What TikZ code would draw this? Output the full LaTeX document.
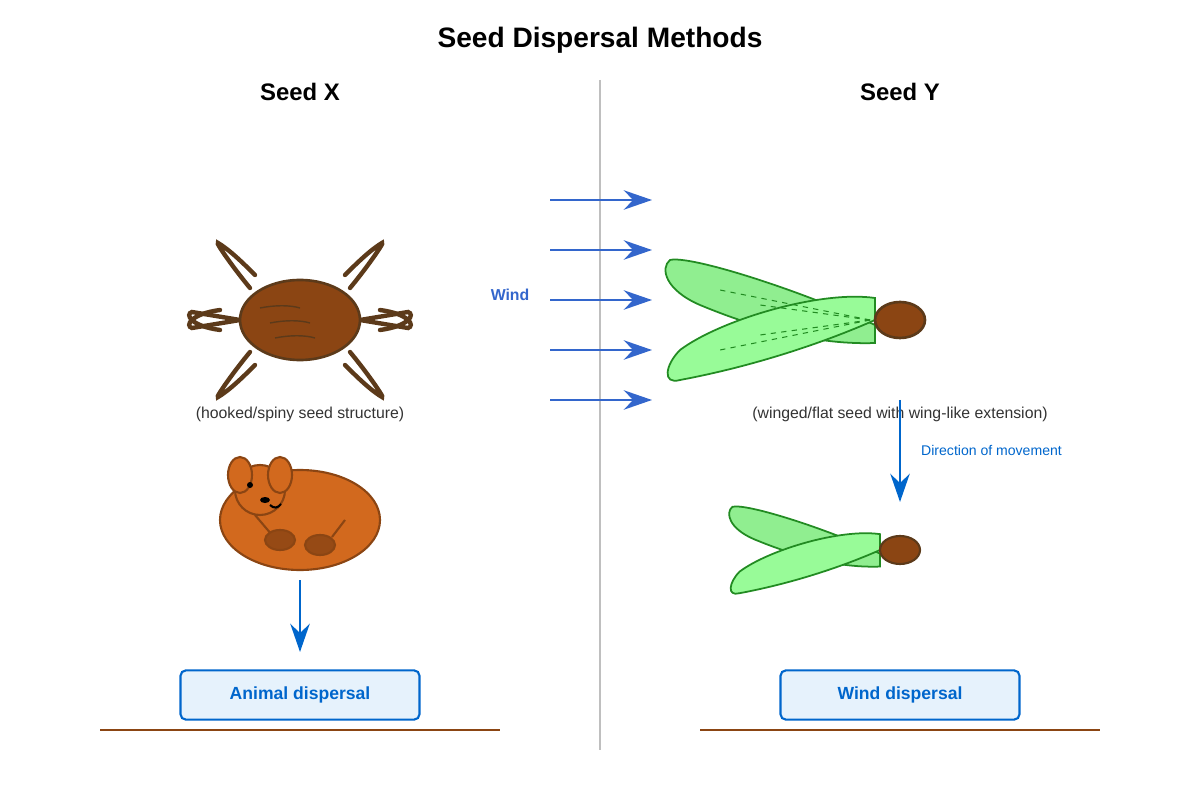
\documentclass[tikz,border=0pt]{standalone}
\usepackage{fontspec}
\setmainfont{Liberation Sans}
\usetikzlibrary{arrows.meta}
\definecolor{seedbrown}{HTML}{8B4513}
\definecolor{hookbrown}{HTML}{5C3A1A}
\definecolor{fur}{HTML}{D2691E}
\definecolor{wingdark}{HTML}{90EE90}
\definecolor{winglight}{HTML}{98FB98}
\definecolor{wingedge}{HTML}{228B22}
\definecolor{flowblue}{HTML}{0066CC}
\definecolor{windblue}{HTML}{3366CC}
\definecolor{boxfill}{HTML}{E6F2FC}
\tikzset{
  hook/.style={line width=2.5pt, color=hookbrown, line cap=round},
  flow/.style={line width=1.6pt, color=flowblue, -{Stealth[length=16pt, width=11pt]}},
  wind/.style={line width=1.6pt, color=windblue, -{Stealth[length=16pt, width=11pt]}},
  result/.style={draw=flowblue, fill=boxfill, line width=1.2pt, rounded corners=3pt,
    minimum width=136pt, minimum height=28pt, text=flowblue, font=\fontsize{10}{12}\selectfont\bfseries},
  caption/.style={text=black!80, font=\fontsize{9}{11}\selectfont},
  wingline/.style={draw=wingedge, line width=1pt}
}
\begin{document}
\begin{tikzpicture}[x=0.02cm, y=-0.02cm]
	%%%%% FRAME %%%%%
	\useasboundingbox (0,0) rectangle (1200,800);
	\node (title) at (600,40) {\fontsize{16}{19}\selectfont\bfseries Seed Dispersal Methods};
	\node (headx) at (300,92) {\fontsize{13.6}{16}\selectfont\bfseries Seed X};
	\node (heady) at (900,92) {\fontsize{13.6}{16}\selectfont\bfseries Seed Y};
	\draw[black!25, line width=1pt] (600,80) -- (600,750);
	
	%%%%% SEED X %%%%%
	\foreach \sx/\sy in {1/1,-1/1,1/-1,-1/-1}{
		\begin{scope}[shift={(300,320)}, xscale=\sx, yscale=\sy]
			\draw[hook] (-50,-32) .. controls (-65,-50) and (-85,-78) .. (-82,-77) .. controls (-70,-70) and (-55,-55) .. (-45,-45);
			\draw[hook] (-60,0) -- (-108,-8) .. controls (-115,-6) and (-110,6) .. (-80,10);
		\end{scope}
	}
	\draw[fill=seedbrown, draw=hookbrown, line width=1.5pt] (300,320) ellipse (60 and 40);
	\draw[hookbrown, line width=0.8pt] (260,308) .. controls (275,305) and (290,305) .. (300,308);
	\draw[hookbrown, line width=0.8pt] (270,323) .. controls (285,320) and (300,320) .. (310,323);
	\draw[hookbrown, line width=0.8pt] (275,338) .. controls (290,335) and (305,335) .. (315,338);
	\node[caption] (capx) at (300,414) {(hooked/spiny seed structure)};
	
	%%%%% ANIMAL %%%%%
	\begin{scope}[line width=1.2pt]
		\draw[seedbrown, fill=fur] (300,520) ellipse (80 and 50);
		\draw[seedbrown, fill=fur] (260,490) circle (25);
		\draw[seedbrown, fill=fur] (240,475) ellipse (12 and 18);
		\draw[seedbrown, fill=fur] (280,475) ellipse (12 and 18);
		\draw[seedbrown] (255,515) -- (272,535);
		\draw[seedbrown] (332,537) -- (345,520);
		\draw[seedbrown, fill=seedbrown!85!fur] (280,540) ellipse (15 and 10);
		\draw[seedbrown, fill=seedbrown!85!fur] (320,545) ellipse (15 and 10);
	\end{scope}
	\fill (250,485) circle (3);
	\fill (265,500) ellipse (5 and 3);
	\draw[line width=1.2pt] (270,505) .. controls (274,509) and (278,508) .. (281,504);
	
	\coordinate (animal) at (300,580);
	\coordinate (animalend) at (300,652);
	\node[result] (animalbox) at (300,695) {Animal dispersal};
	\draw[flow] (animal) -- (animalend);
	\draw[seedbrown, line width=1.5pt] (100,730) -- (500,730);
	
	%%%%% WIND %%%%%
	\node[text=windblue] (windlabel) at (510,295) {\fontsize{9}{11}\selectfont\bfseries Wind};
	\foreach \y [count=\i] in {200,250,300,350,400}{
		\coordinate (wa\i) at (550,\y);
		\coordinate (wb\i) at (652,\y);
		\draw[wind] (wa\i) -- (wb\i);
	}
	
	%%%%% SEED Y %%%%%
	\foreach \sc/\cx/\cy in {1/875/320, 0.72/880/550}{
		\begin{scope}[shift={(\cx,\cy)}, scale=\sc, shift={(-875,-320)}]
			\path[wingline, fill=wingdark] (875,325) .. controls (800,290) and (690,255) .. (670,260) .. controls (660,268) and (665,290) .. (700,305) .. controls (760,330) and (820,345) .. (875,343) -- cycle;
			\path[wingline, fill=winglight] (875,298) .. controls (820,290) and (720,320) .. (680,350) .. controls (665,365) and (662,385) .. (680,380) .. controls (760,365) and (830,340) .. (875,320) -- cycle;
		\end{scope}
	}
	\foreach \vx/\vy in {720/290, 760/305, 760/335, 720/350}{
		\draw[wingedge, dashed, line width=0.6pt] (870,320) -- (\vx,\vy);
	}
	\draw[fill=seedbrown, draw=hookbrown, line width=1.5pt] (900,320) ellipse (25 and 18);
	\node[caption] (capy) at (900,414) {(winged/flat seed with wing-like extension)};
	
	\coordinate (fall) at (900,400);
	\coordinate (landed) at (900,502);
	\draw[flow] (fall) -- (landed);
	\node[text=flowblue, anchor=west] (direction) at (915,450) {\fontsize{8}{10}\selectfont Direction of movement};
	
	\draw[fill=seedbrown, draw=hookbrown, line width=1.2pt] (900,550) ellipse (20 and 14);
	
	\node[result] (windbox) at (900,695) {Wind dispersal};
	\draw[seedbrown, line width=1.5pt] (700,730) -- (1100,730);
\end{tikzpicture}
\end{document}
